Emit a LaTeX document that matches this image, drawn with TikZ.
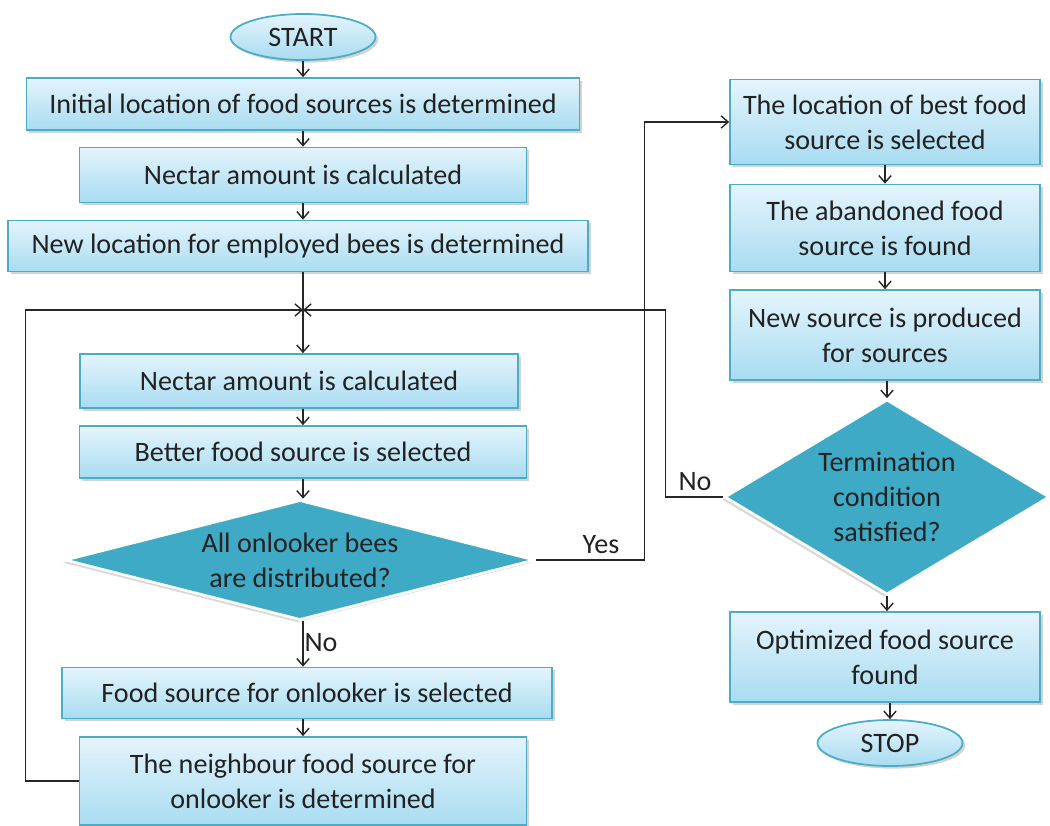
\documentclass[tikz,border=0pt]{standalone}
\usepackage{fontspec}
\setmainfont{Carlito}
\usetikzlibrary{arrows.meta,shapes.geometric,shadows}
\definecolor{boxtop}{HTML}{E4F4FC}
\definecolor{boxbot}{HTML}{A8DCF1}
\definecolor{edge}{HTML}{4BACC6}
\definecolor{decfill}{HTML}{3FAAC5}
\definecolor{ink}{HTML}{222222}
\definecolor{wire}{HTML}{262626}
\tikzset{
  base/.style={draw=edge, line width=1pt, top color=boxtop, bottom color=boxbot,
    text=ink, font=\fontsize{16}{20}\selectfont, align=center, inner sep=0pt,
    drop shadow={opacity=0.35, shadow xshift=1.5pt, shadow yshift=-1.5pt}},
  proc/.style={base, rectangle},
  term/.style={base, ellipse, minimum width=2.9cm, minimum height=0.92cm},
  dec/.style={diamond, fill=decfill, draw=white, line width=1.5pt, text=ink,
    font=\fontsize{16}{20}\selectfont, align=center, inner sep=0pt,
    drop shadow={opacity=0.3, shadow xshift=-1.5pt, shadow yshift=-1.5pt}},
  flow/.style={-{Straight Barb[length=4pt,width=7pt]}, line width=0.8pt, draw=wire},
  tag/.style={text=ink, font=\fontsize{16}{20}\selectfont}
}
\begin{document}
\begin{tikzpicture}[x=0.02cm, y=-0.02cm]
  \useasboundingbox (0,0) rectangle (1050,825);

  % left column
  \node[term] (start) at (303,37) {START};
  \node[proc, minimum width=11.06cm, minimum height=1.04cm] (init) at (303,104) {Initial location of food sources is determined};
  \node[proc, minimum width=8.94cm, minimum height=1.1cm] (nectarA) at (303,175) {Nectar amount is calculated};
  \node[proc, minimum width=11.6cm, minimum height=1.02cm] (newloc) at (298,246) {New location for employed bees is determined};
  \coordinate (merge) at (303,310);
  \node[proc, minimum width=8.76cm, minimum height=1.08cm] (nectarB) at (299,381) {Nectar amount is calculated};
  \node[proc, minimum width=8.94cm, minimum height=1.04cm] (better) at (303,452) {Better food source is selected};
  \node[dec, shape aspect=3.9, minimum width=9.4cm, minimum height=2.4cm] (allbees) at (300,560) {All onlooker bees\\are distributed?};
  \node[proc, minimum width=9.8cm, minimum height=1.02cm] (foodsel) at (307,693) {Food source for onlooker is selected};
  \node[proc, minimum width=8.94cm, minimum height=1.76cm] (neigh) at (303,781) {The neighbour food source for\\onlooker is determined};

  % right column
  \node[proc, minimum width=6.2cm, minimum height=1.7cm] (best) at (885,122) {The location of best food\\source is selected};
  \node[proc, minimum width=6.2cm, minimum height=1.74cm] (aband) at (885,228) {The abandoned food\\source is found};
  \node[proc, minimum width=6.2cm, minimum height=1.8cm] (newsrc) at (885,335) {New source is produced\\for sources};
  \node[dec, shape aspect=1.67, minimum width=6.5cm, minimum height=3.9cm] (termc) at (887,497) {Termination\\condition\\satisfied?};
  \node[proc, minimum width=6.2cm, minimum height=1.8cm] (optim) at (885,657) {Optimized food source\\found};
  \node[term] (stop) at (890,743) {STOP};

  % connectors
  \draw[flow] (start) -- (init);
  \draw[flow] (init) -- (nectarA);
  \draw[flow] (nectarA) -- (nectarA |- newloc.north);
  \draw[flow] (merge |- newloc.south) -- (merge |- nectarB.north);
  \draw[flow] (neigh.west) -- ++(-53,0) |- (merge);
  \draw[flow] (termc.west) -- ++(-58,0) |- (merge);
  \draw[flow] (merge |- nectarB.south) -- (merge |- better.north);
  \draw[flow] (merge |- better.south) -- (merge |- allbees.north);
  \draw[flow] (merge |- allbees.south) -- (merge |- foodsel.north);
  \draw[flow] (merge |- foodsel.south) -- (merge |- neigh.north);
  \draw[flow] (allbees.east) -- ++(108,0) |- (best.west);
  \draw[flow] (best) -- (aband);
  \draw[flow] (aband) -- (newsrc);
  \draw[flow] (newsrc.south -| termc) -- (termc.north);
  \draw[flow] (termc.south) -- (termc.south |- optim.north);
  \draw[flow] (optim.south -| stop) -- (stop.north);

  % branch labels
  \node[tag] (yes) at (601,545) {Yes};
  \node[tag] (noA) at (321,643) {No};
  \node[tag] (noB) at (695,482) {No};
\end{tikzpicture}
\end{document}
